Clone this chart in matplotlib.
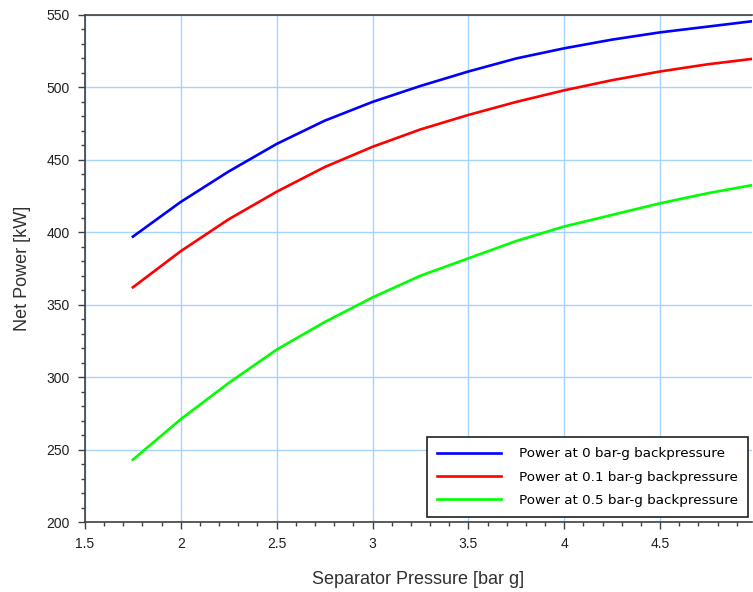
import matplotlib
matplotlib.use("Agg")
import matplotlib.pyplot as plt
from matplotlib.ticker import MultipleLocator

pressure = [1.75, 2.0, 2.25, 2.5, 2.75, 3.0, 3.25, 3.5, 3.75, 4.0, 4.25, 4.5, 4.75, 5.0]
power_0 = [397, 421, 442, 461, 477, 490, 501, 511, 520, 527, 533, 538, 542, 546]
power_01 = [362, 387, 409, 428, 445, 459, 471, 481, 490, 498, 505, 511, 516, 520]
power_05 = [243, 271, 296, 319, 338, 355, 370, 382, 394, 404, 412, 420, 427, 433]
labels = ["Power at 0 bar-g backpressure",
          "Power at 0.1 bar-g backpressure",
          "Power at 0.5 bar-g backpressure"]
colors = ["#0000ff", "#ff0000", "#00ff00"]

plt.rcParams['font.family'] = ['Liberation Sans', 'DejaVu Sans']

fig = plt.figure(figsize=(7.53, 5.92), dpi=100)
ax = fig.add_axes([85/753, 70/592, 667/753, 507/592])

for ys, lab, c in zip([power_0, power_01, power_05], labels, colors):
    ax.plot(pressure, ys, color=c, lw=1.9, label=lab)

ax.set_xlim(1.5, 4.98)
ax.set_ylim(200, 550)
ax.xaxis.set_minor_locator(MultipleLocator(0.1))
ax.yaxis.set_major_locator(MultipleLocator(50))
ax.yaxis.set_minor_locator(MultipleLocator(10))
ax.set_xticks([1.5, 2, 2.5, 3, 3.5, 4, 4.5])
ax.set_xticklabels(["1.5", "2", "2.5", "3", "3.5", "4", "4.5"])
ax.grid(True, which='major', color='#a6d4fa', lw=1.0)
ax.set_axisbelow(True)

for s in ['top', 'left', 'bottom']:
    ax.spines[s].set_color('#404040')
    ax.spines[s].set_linewidth(1.2)
ax.spines['right'].set_visible(False)

ax.tick_params(which='major', direction='out', length=5, width=1, color='#404040',
               labelsize=10, labelcolor='#202020', pad=6)
ax.tick_params(which='minor', direction='out', length=3, width=1, color='#404040')

ax.set_xlabel("Separator Pressure [bar g]", fontsize=13, color='#303030', labelpad=14)
ax.set_ylabel("Net Power [kW]", fontsize=13, color='#303030', labelpad=11)

leg = ax.legend(loc='lower right', bbox_to_anchor=(0.998, 0.005),
                prop={'family': 'DejaVu Sans', 'size': 9.7},
                fancybox=False, edgecolor='#202020', framealpha=1, handlelength=4.8,
                borderpad=0.75, labelspacing=0.75, handletextpad=1.3, borderaxespad=0.2)
leg.get_frame().set_linewidth(1.2)

fig.savefig("out.png", dpi=100)
